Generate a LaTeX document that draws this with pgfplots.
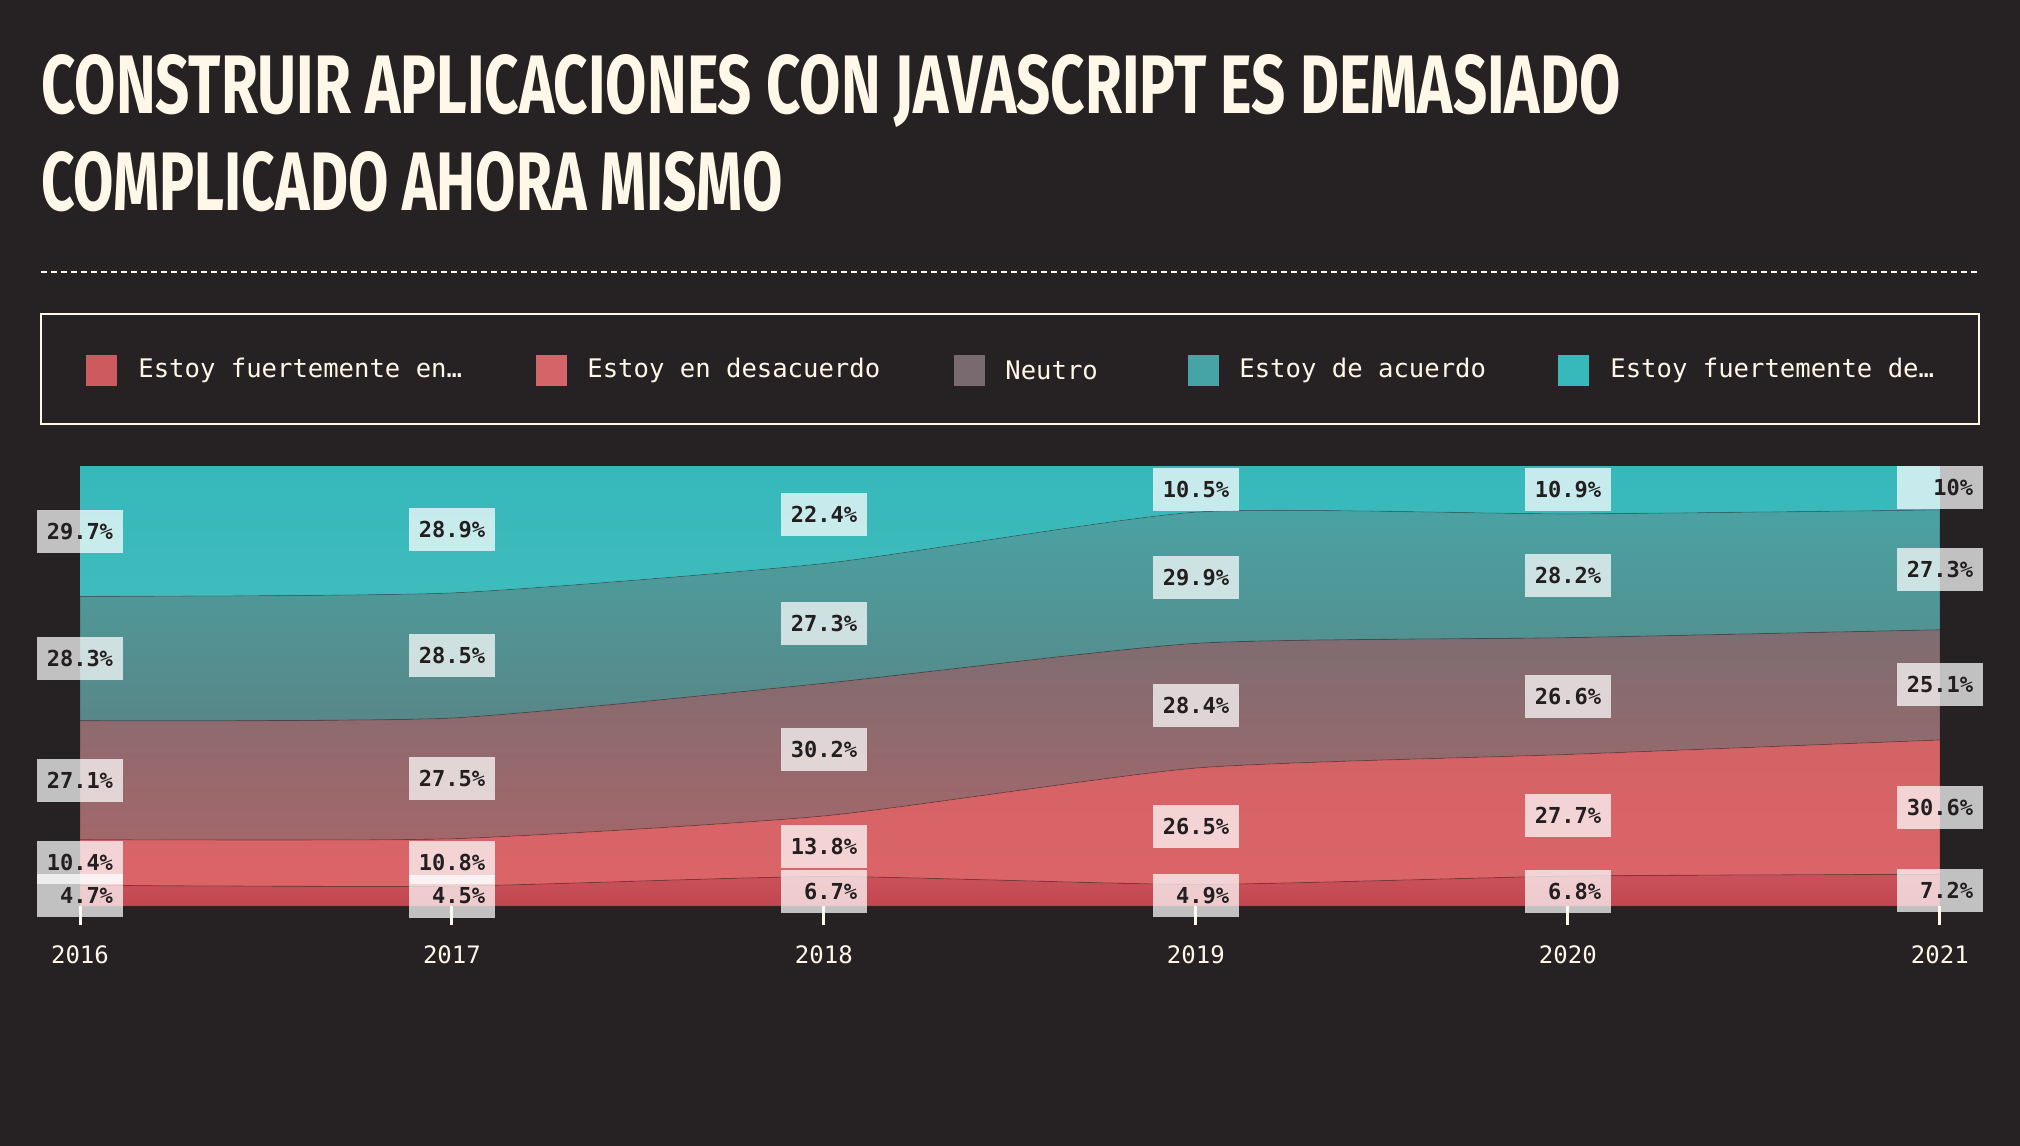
\documentclass[border=0pt]{standalone}
\usepackage{fontspec}
\usepackage{pgfplots}
\usepackage{pgfplotstable}
\pgfplotsset{compat=1.18}
\usepackage{graphicx}

\newfontfamily\mono{DejaVu Sans Mono}
\newfontfamily\titlefont{Fira Sans}

\definecolor{bg}{HTML}{262224}
\definecolor{cream}{HTML}{FFF7E8}
\definecolor{labeltext}{HTML}{231F20}
% legend colours
\definecolor{lsd}{HTML}{CD5A5F}
\definecolor{ld}{HTML}{D46467}
\definecolor{ln}{HTML}{786A6E}
\definecolor{la}{HTML}{47A4A6}
\definecolor{lsa}{HTML}{37B9BC}
% area gradients
\definecolor{sdtop}{HTML}{C9525A}
\definecolor{sdbot}{HTML}{C2464F}
\definecolor{dtop}{HTML}{D46366}
\definecolor{dbot}{HTML}{DB6467}
\definecolor{ntop}{HTML}{7E6D71}
\definecolor{nbot}{HTML}{A3676B}
\definecolor{atop}{HTML}{4AA2A3}
\definecolor{abot}{HTML}{588788}
\definecolor{satop}{HTML}{36B8BB}
\definecolor{sabot}{HTML}{3FBBBC}

% answers per year, in percent (bottom to top)
\pgfplotstableread{
year sd   d    n    a    sa
2016 4.7  10.4 27.1 28.3 29.7
2017 4.5  10.8 27.5 28.5 28.9
2018 6.7  13.8 30.2 27.3 22.4
2019 4.9  26.5 28.4 29.9 10.5
2020 6.8  27.7 26.6 28.2 10.9
2021 7.2  30.6 25.1 27.3 10
}\answers

\begin{document}
\begin{tikzpicture}
\fill[bg] (0,0) rectangle (1010pt,-573pt);

% title
\node[anchor=base west, inner sep=0, text=cream] at (20.5pt,-56.5pt)
  {\resizebox{789.5pt}{29.5pt}{\titlefont\bfseries CONSTRUIR APLICACIONES CON JAVASCRIPT ES DEMASIADO}};
\node[anchor=base west, inner sep=0, text=cream] at (20.5pt,-105pt)
  {\resizebox{370.5pt}{29.5pt}{\titlefont\bfseries COMPLICADO AHORA MISMO}};

\draw[cream, line width=1pt, dash pattern=on 3pt off 2pt] (20.5pt,-136pt) -- (989.5pt,-136pt);

% legend
\draw[cream, line width=1pt] (20.5pt,-157pt) rectangle (989.5pt,-212pt);
\foreach \sx/\tx/\col/\txt in {43/69/lsd/Estoy fuertemente en…,
                               268/293.5/ld/Estoy en desacuerdo,
                               477/502.5/ln/Neutro,
                               594/619.5/la/Estoy de acuerdo,
                               779/805/lsa/Estoy fuertemente de…}{
  \fill[\col] (\sx pt,-177.5pt) rectangle ++(15.5pt,-15.5pt);
  \node[anchor=west, inner sep=0, text=cream, font=\mono\fontsize{12.8}{14}\selectfont]
    at (\tx pt,-185pt) {\txt};
}

% stacked areas
\begin{axis}[
  at={(40pt,-453pt)}, anchor=south west,
  scale only axis, width=930pt, height=220pt,
  xmin=2016, xmax=2021, ymin=0, ymax=100.2,
  stack plots=y, hide axis,
  every axis plot/.append style={smooth, tension=0.35, line width=0.4pt},
]
\addplot[draw=bg, draw opacity=0.3, top color=sdtop, bottom color=sdbot]
  table[x=year, y=sd]{\answers} \closedcycle;
\addplot[draw=bg, draw opacity=0.3, top color=dtop, bottom color=dbot]
  table[x=year, y=d]{\answers} \closedcycle;
\addplot[draw=bg, draw opacity=0.3, top color=ntop, bottom color=nbot]
  table[x=year, y=n]{\answers} \closedcycle;
\addplot[draw=bg, draw opacity=0.3, top color=atop, bottom color=abot]
  table[x=year, y=a]{\answers} \closedcycle;
\addplot[draw=none, top color=satop, bottom color=sabot]
  table[x=year, y=sa]{\answers} \closedcycle;
\end{axis}

% value labels, ticks and year labels
\begin{axis}[
  at={(40pt,-453pt)}, anchor=south west,
  scale only axis, width=930pt, height=220pt,
  xmin=2016, xmax=2021, ymin=0, ymax=100.2,
  clip=false, axis on top,
  axis line style={draw=none},
  ytick=\empty, xtick={2016,...,2021}, xtick pos=bottom,
  tick align=outside, major tick length=9.5pt,
  x tick style={cream, line width=1.5pt},
  /pgf/number format/.cd, set thousands separator={}, assume math mode=true,
  /pgfplots/.cd,
  xticklabel style={font=\mono\fontsize{12}{14}\selectfont, text=cream, yshift=-7pt},
]
\addplot[only marks, mark=none, point meta=explicit symbolic,
  nodes near coords={\makebox[33pt][r]{\pgfplotspointmeta}},
  nodes near coords style={anchor=center, fill=white, fill opacity=0.72, text opacity=1,
    text=labeltext, font=\mono\bfseries\fontsize{11}{12}\selectfont,
    inner xsep=5pt, minimum height=21.5pt, inner ysep=0pt}]
coordinates {
  (2016,85.35) [29.7\%] (2016,56.35) [28.3\%] (2016,28.65) [27.1\%] (2016,9.9) [10.4\%] (2016,2.35) [4.7\%]
  (2017,85.75) [28.9\%] (2017,57.05) [28.5\%] (2017,29.05) [27.5\%] (2017,9.9) [10.8\%] (2017,2.25) [4.5\%]
  (2018,89.2) [22.4\%] (2018,64.35) [27.3\%] (2018,35.6) [30.2\%] (2018,13.6) [13.8\%] (2018,3.35) [6.7\%]
  (2019,94.95) [10.5\%] (2019,74.75) [29.9\%] (2019,45.6) [28.4\%] (2019,18.15) [26.5\%] (2019,2.45) [4.9\%]
  (2020,94.75) [10.9\%] (2020,75.2) [28.2\%] (2020,47.8) [26.6\%] (2020,20.65) [27.7\%] (2020,3.4) [6.8\%]
  (2021,95.2) [10\%] (2021,76.55) [27.3\%] (2021,50.35) [25.1\%] (2021,22.5) [30.6\%] (2021,3.6) [7.2\%]
};
\end{axis}
\end{tikzpicture}
\end{document}
